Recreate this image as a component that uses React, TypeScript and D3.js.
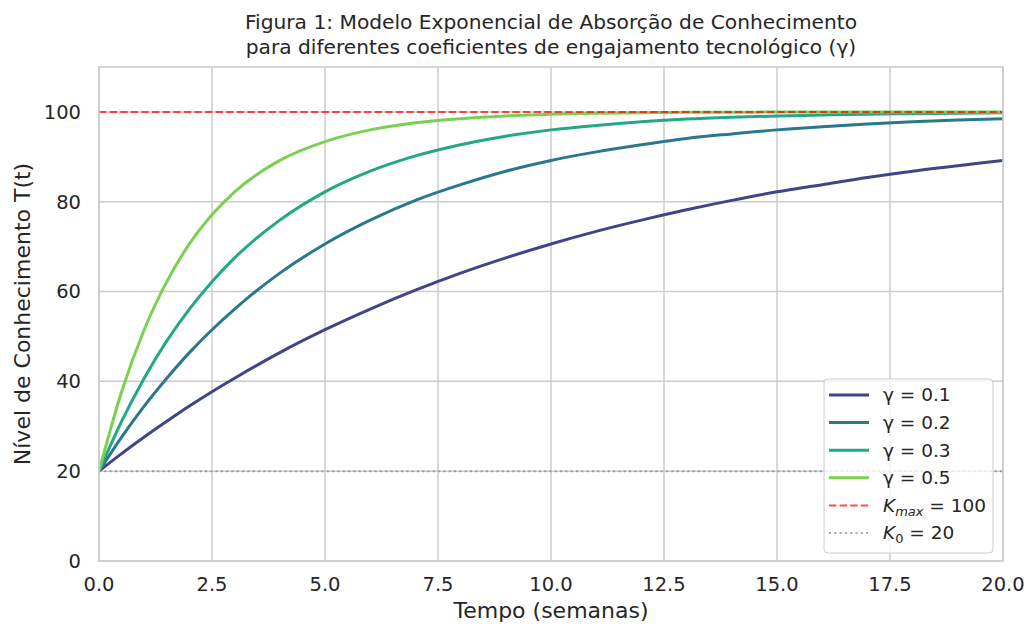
import React from 'react';
import * as d3 from 'd3';

// semanas amostradas
const tempo = [0, 0.5, 1, 1.5, 2, 2.5, 3, 4, 5, 6, 7, 8, 9, 10, 11, 12, 13, 14, 15, 16, 17, 18, 19, 20];

// nível de conhecimento, um array por γ
const gamma01 = [20, 23.9, 27.6, 31.1, 34.5, 37.7, 40.7, 46.4, 51.5, 56.1, 60.3, 64.1, 67.5, 70.6, 73.4, 75.9, 78.2, 80.3, 82.2, 83.8, 85.4, 86.8, 88.0, 89.2];
const gamma02 = [20, 27.6, 34.5, 40.7, 46.4, 51.5, 56.1, 64.1, 70.6, 75.9, 80.3, 83.8, 86.8, 89.2, 91.1, 92.7, 94.1, 95.1, 96.0, 96.7, 97.3, 97.8, 98.2, 98.5];
const gamma03 = [20, 31.1, 40.7, 49.0, 56.1, 62.2, 67.5, 75.9, 82.2, 86.8, 90.2, 92.7, 94.6, 96.0, 97.0, 97.8, 98.4, 98.8, 99.1, 99.3, 99.5, 99.6, 99.7, 99.8];
const gamma05 = [20, 37.7, 51.5, 62.2, 70.6, 77.1, 82.2, 89.2, 93.4, 96.0, 97.6, 98.5, 99.1, 99.5, 99.7, 99.8, 99.9, 99.9, 100, 100, 100, 100, 100, 100];

const gammaLabels = ['γ = 0.1', 'γ = 0.2', 'γ = 0.3', 'γ = 0.5'];
const gammaColors = ['#414487', '#2a788e', '#22a884', '#7ad151'];

const kMax = 100;
const k0 = 20;

const xTicks = [0, 2.5, 5, 7.5, 10, 12.5, 15, 17.5, 20];
const yTicks = [0, 20, 40, 60, 80, 100];

const W = 1030;
const H = 626;
const margin = { top: 67, right: 27, bottom: 65, left: 99 };
const font = 'DejaVu Sans, sans-serif';
const ink = '#262626';
const gridColor = '#cccccc';

export default function App() {
  const x = d3.scaleLinear().domain([0, 20]).range([margin.left, W - margin.right]);
  const y = d3.scaleLinear().domain([0, 110]).range([H - margin.bottom, margin.top]);

  const series = [gamma01, gamma02, gamma03, gamma05].map((vals, i) => ({
    label: gammaLabels[i],
    color: gammaColors[i],
    points: tempo.map((t, j) => [t, vals[j]] as [number, number]),
  }));

  const line = d3.line<[number, number]>()
    .x(d => x(d[0]))
    .y(d => y(d[1]))
    .curve(d3.curveMonotoneX);

  const [x0, x1] = x.range();
  const [yb, yt] = y.range();

  // legenda
  const lg = { x: 824, y: 379, w: 169, h: 174, row: 27.6 };

  return (
    <div>
      <style>{`body{margin:0}`}</style>
      <svg width={W} height={H} style={{ display: 'block', background: '#fff' }} fontFamily={font}>
        {/* grade */}
        {xTicks.map(t => (
          <line key={'gx' + t} x1={x(t)} x2={x(t)} y1={yt} y2={yb} stroke={gridColor} strokeWidth={1.5} />
        ))}
        {yTicks.map(t => (
          <line key={'gy' + t} x1={x0} x2={x1} y1={y(t)} y2={y(t)} stroke={gridColor} strokeWidth={1.5} />
        ))}

        {/* curvas */}
        <g clipPath="url(#clip)">
          {series.map(s => (
            <path key={s.label} d={line(s.points) || ''} fill="none" stroke={s.color} strokeWidth={3} />
          ))}
          <line x1={x0} x2={x1} y1={y(kMax)} y2={y(kMax)} stroke="red" strokeOpacity={0.7} strokeWidth={2} strokeDasharray="7.4,3.2" />
          <line x1={x0} x2={x1} y1={y(k0)} y2={y(k0)} stroke="gray" strokeOpacity={0.7} strokeWidth={2} strokeDasharray="2,3.3" />
        </g>
        <defs>
          <clipPath id="clip">
            <rect x={x0} y={yt} width={x1 - x0} height={yb - yt} />
          </clipPath>
        </defs>

        {/* moldura */}
        <rect x={x0} y={yt} width={x1 - x0} height={yb - yt} fill="none" stroke={gridColor} strokeWidth={1.6} />

        {/* ticks */}
        {xTicks.map(t => (
          <text key={'tx' + t} x={x(t)} y={yb + 30} textAnchor="middle" fontSize={19.5} fill={ink}>
            {t.toFixed(1)}
          </text>
        ))}
        {yTicks.map(t => (
          <text key={'ty' + t} x={x0 - 18} y={y(t)} dy="0.35em" textAnchor="end" fontSize={19.5} fill={ink}>
            {t}
          </text>
        ))}

        {/* rótulos */}
        <text x={(x0 + x1) / 2} y={618} textAnchor="middle" fontSize={22} fill={ink}>Tempo (semanas)</text>
        <text transform={`translate(30,${(yt + yb) / 2}) rotate(-90)`} textAnchor="middle" fontSize={22} fill={ink}>
          Nível de Conhecimento T(t)
        </text>
        <text x={(x0 + x1) / 2} y={29} textAnchor="middle" fontSize={20.2} fill={ink}>
          Figura 1: Modelo Exponencial de Absorção de Conhecimento
        </text>
        <text x={(x0 + x1) / 2} y={54} textAnchor="middle" fontSize={20.2} fill={ink}>
          para diferentes coeficientes de engajamento tecnológico (γ)
        </text>

        {/* legenda */}
        <g transform={`translate(${lg.x},${lg.y})`}>
          <rect x={0} y={0} width={lg.w} height={lg.h} rx={4} fill="#fff" fillOpacity={0.8} stroke={gridColor} strokeWidth={1} />
          {series.map((s, i) => (
            <g key={'lg' + s.label} transform={`translate(0,${16 + i * lg.row})`}>
              <line x1={5} x2={45} y1={0} y2={0} stroke={s.color} strokeWidth={3} />
              <text x={59} y={0} dy="0.35em" fontSize={18.5} fill={ink}>{s.label}</text>
            </g>
          ))}
          <g transform={`translate(0,${16 + 4 * lg.row})`}>
            <line x1={5} x2={45} y1={0} y2={0} stroke="red" strokeOpacity={0.7} strokeWidth={2} strokeDasharray="7.4,3.2" />
            <text x={59} y={0} dy="0.35em" fontSize={18.5} fill={ink}>
              <tspan fontStyle="italic">K</tspan>
              <tspan fontStyle="italic" fontSize={13} dy={4}>max</tspan>
              <tspan dy={-4}> = {kMax}</tspan>
            </text>
          </g>
          <g transform={`translate(0,${16 + 5 * lg.row})`}>
            <line x1={5} x2={45} y1={0} y2={0} stroke="gray" strokeOpacity={0.7} strokeWidth={2} strokeDasharray="2,3.3" />
            <text x={59} y={0} dy="0.35em" fontSize={18.5} fill={ink}>
              <tspan fontStyle="italic">K</tspan>
              <tspan fontSize={13} dy={4}>0</tspan>
              <tspan dy={-4}> = {k0}</tspan>
            </text>
          </g>
        </g>
      </svg>
    </div>
  );
}
